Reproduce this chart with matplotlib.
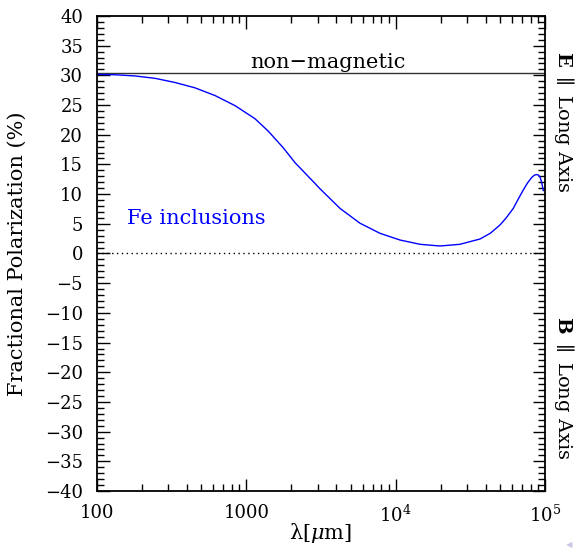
import numpy as np
import matplotlib
matplotlib.use('Agg')
import matplotlib.pyplot as plt
from matplotlib import ticker

plt.rcParams['font.family'] = 'DejaVu Serif'
plt.rcParams['mathtext.fontset'] = 'dejavuserif'

# Wavelength (micron) and fractional polarization (%) for grains with Fe inclusions
wavelength_fe = [100, 132, 180, 245, 333, 453, 617, 840, 1143, 1403, 1768, 2118,
                 2883, 3114, 4240, 5770, 7855, 10690, 14550, 19810, 26970, 36710,
                 43000, 49970, 55000, 61350, 66000, 71580, 76500, 81470, 85000, 88020,
                 90500, 92600, 95000, 97430]
pol_fe = [30.17, 30.1, 29.9, 29.5, 28.8, 27.9, 26.6, 24.9, 22.7, 20.6, 17.8, 15.3,
          11.8, 10.9, 7.6, 5.1, 3.4, 2.27, 1.55, 1.26, 1.55, 2.44,
          3.4, 4.8, 6.0, 7.6, 9.1, 10.7, 11.9, 12.8, 13.2, 13.3,
          13.2, 12.9, 12.0, 10.6]

# Non-magnetic grains: flat polarization
wavelength_nm = [100, 1e5]
pol_nm = [30.35, 30.35]

fig = plt.figure(figsize=(5.77, 5.53), dpi=100)
ax = fig.add_axes([0.1681, 0.1121, 0.7764, 0.8590])

ax.plot(wavelength_nm, pol_nm, color='#333333', lw=1.0)
ax.plot(wavelength_fe, pol_fe, color='#0000ff', lw=1.0)
ax.axhline(0, color='black', lw=1.0, ls=(0, (1, 2.5)))

ax.set_xscale('log')
ax.set_xlim(100, 1e5)
ax.set_ylim(-40, 40)

ax.yaxis.set_major_locator(ticker.MultipleLocator(5))
ax.yaxis.set_minor_locator(ticker.MultipleLocator(1))
ax.xaxis.set_major_locator(ticker.FixedLocator([100, 1000, 1e4, 1e5]))
ax.xaxis.set_minor_locator(ticker.LogLocator(base=10, subs=np.arange(2, 10)))
ax.xaxis.set_minor_formatter(ticker.NullFormatter())
ax.xaxis.set_major_formatter(ticker.FixedFormatter(['100', '1000', r'$10^4$', r'$10^5$']))
ax.yaxis.set_major_formatter(ticker.FuncFormatter(lambda v, p: f'{int(v)}'.replace('-', '\u2212')))

ax.tick_params(which='both', direction='in', top=True, right=True, labelsize=13, width=1.0)
ax.tick_params(which='major', length=9)
ax.tick_params(which='minor', length=5)
ax.tick_params(axis='x', pad=9.5)
ax.tick_params(axis='y', pad=10)
for s in ax.spines.values():
    s.set_linewidth(1.3)

ax.set_ylabel('Fractional Polarization (%)', fontsize=15)
ax.yaxis.set_label_coords(-0.156, 0.5)
ax.set_xlabel('λ[$\\mu$m]', fontsize=15)
ax.xaxis.set_label_coords(0.5, -0.064)

ax.text(3500, 31.2, 'non\u2212magnetic', fontsize=15, ha='center', va='baseline')
ax.text(159, 5.0, 'Fe inclusions', fontsize=15, color='#0000ff', ha='left', va='baseline')

fig.text(0.977, 0.780, r'$\mathbf{E}$ $\parallel$ Long Axis', rotation=-90,
         fontsize=14, ha='center', va='center')
fig.text(0.977, 0.298, r'$\mathbf{B}$ $\parallel$ Long Axis', rotation=-90,
         fontsize=14, ha='center', va='center')
fig.text(0.986, 0.016, '\u25c0', fontsize=6, color='#c8c8e6', ha='center', va='center',
         family='DejaVu Sans')

fig.savefig('out.png', dpi=100)
